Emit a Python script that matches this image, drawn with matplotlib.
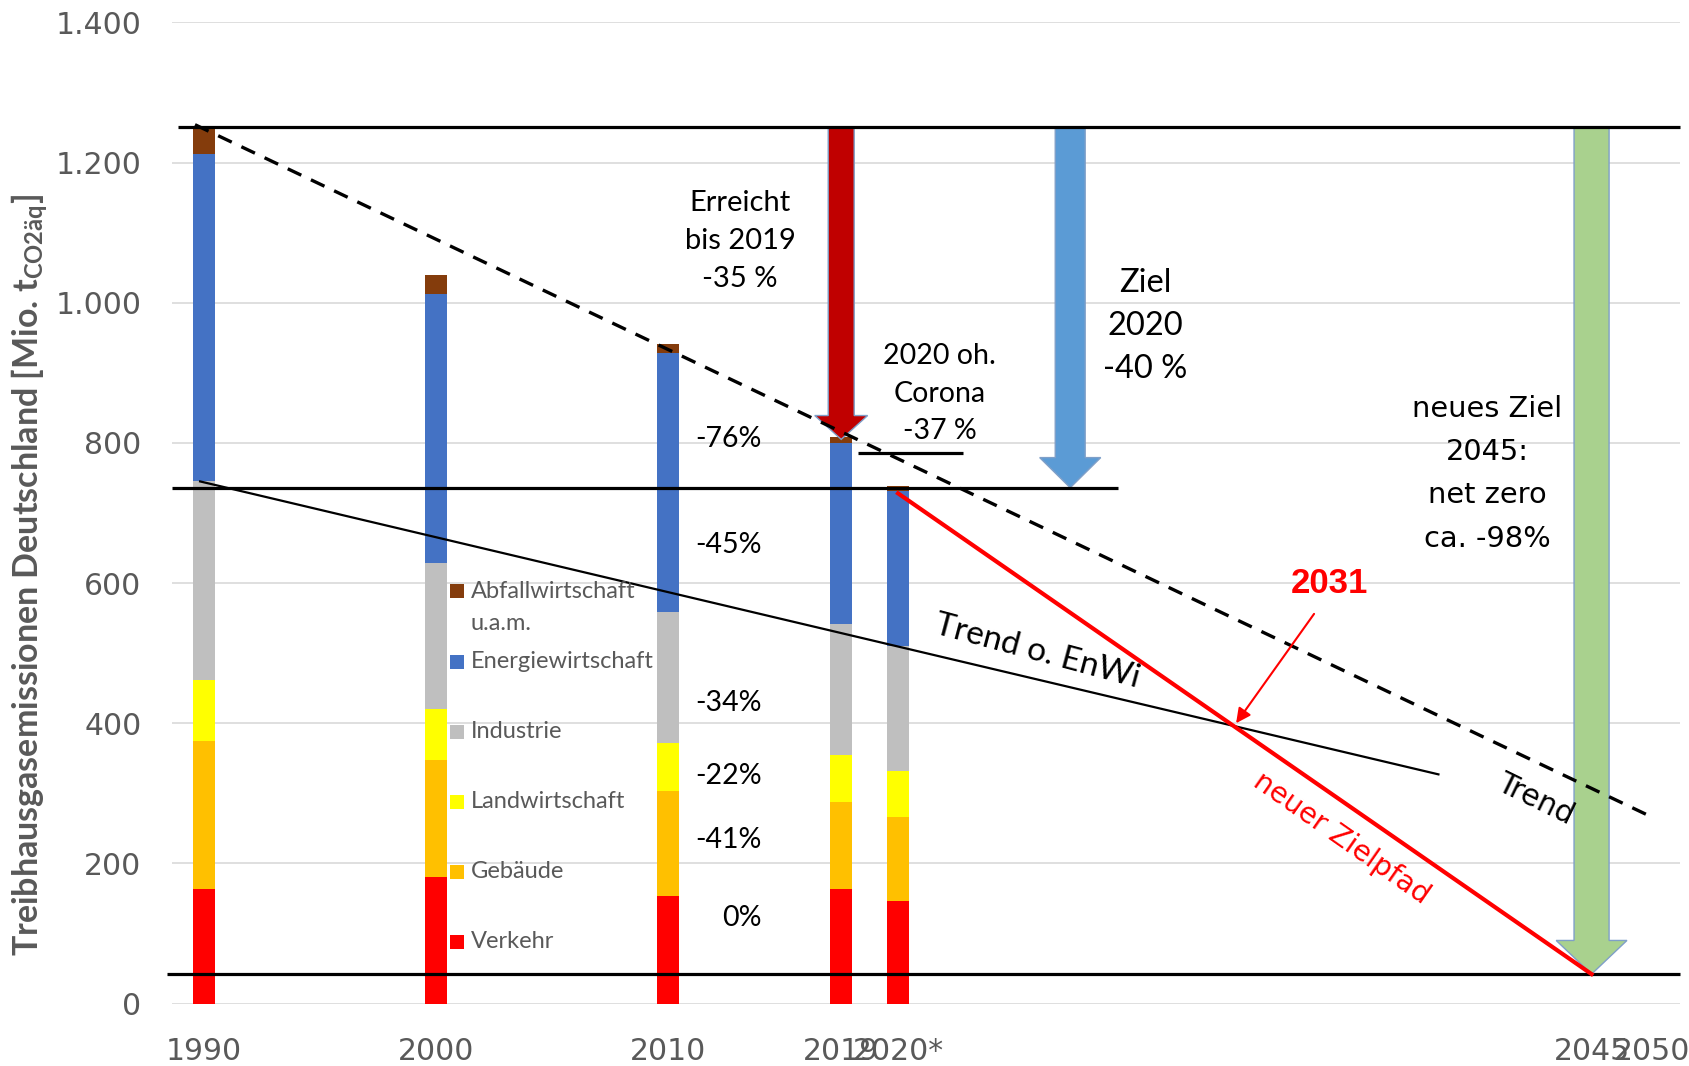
#!/usr/bin/env python3
"""Treibhausgasemissionen Deutschland: Sektoren, Trends und Zielpfad."""

import matplotlib

matplotlib.use("Agg")

import matplotlib.pyplot as plt
from matplotlib.patches import Polygon


# bar slots on the (uneven) category axis
BAR_POS = [0.0, 10.0, 20.0, 27.46, 29.91]
TICK_POS = [0.0, 10.0, 20.0, 27.46, 29.91, 59.8, 62.4]
TICK_LABELS = ["1990", "2000", "2010", "2019", "2020*", "2045", "2050"]
Y_TICKS = [0, 200, 400, 600, 800, 1000, 1200, 1400]

# Mio. t CO2-Äq. per sector
verkehr = [164, 181, 153, 164, 146]
gebaeude = [210, 167, 150, 123, 120]
landwirtschaft = [88, 72, 69, 68, 66]
industrie = [284, 208, 187, 187, 178]
energie = [466, 385, 369, 258, 221]
abfall = [38, 27, 13, 9, 8]

SECTOR_NAMES = ["Verkehr", "Gebäude", "Landwirtschaft", "Industrie",
                "Energiewirtschaft", "Abfallwirtschaft"]
SECTOR_COLORS = ["#FF0000", "#FFC000", "#FFFF00", "#BFBFBF", "#4472C4", "#843C0C"]

# reference levels
LEVEL_1990 = 1251
LEVEL_ZIEL_2020 = 736
LEVEL_2045 = 42
LEVEL_CORONA = 785

# trend lines (x slot, value)
TREND_X = [-0.39, 62.15]
TREND_Y = [1254, 270]
ENWI_X = [-0.17, 53.2]
ENWI_Y = [745, 327]
ZIEL_X = [29.91, 59.8]
ZIEL_Y = [728, 42]
CORONA_X = [28.2, 32.7]

# sector changes 1990-2019
PCT_LABELS = ["-76%", "-45%", "-34%", "-22%", "-41%", "0%"]
PCT_Y = [805, 654, 429, 325, 233, 122]

# inline legend rows, top to bottom
LEGEND_Y = [588, 488, 388, 288, 188, 88]

CALIBRI = ["Lato", "DejaVu Sans"]
GRAY = "#595959"


def down_arrow(ax, xc, y_top, y_tip, shaft_w, head_w, head_len, color, z):
    pts = [
        (xc - shaft_w / 2, y_top),
        (xc + shaft_w / 2, y_top),
        (xc + shaft_w / 2, y_tip + head_len),
        (xc + head_w / 2, y_tip + head_len),
        (xc, y_tip),
        (xc - head_w / 2, y_tip + head_len),
        (xc - shaft_w / 2, y_tip + head_len),
    ]
    ax.add_patch(Polygon(pts, closed=True, facecolor=color, edgecolor="#7F9FC8",
                         linewidth=1.0, zorder=z))


fig = plt.figure(figsize=(16.9, 10.66), dpi=100, facecolor="white")
ax = fig.add_axes([0.1018, 0.0586, 0.8924, 0.9204])
ax.set_xlim(-1.38, 63.62)
ax.set_ylim(0, 1400)

# stacked bars
series = [verkehr, gebaeude, landwirtschaft, industrie, energie, abfall]
bottom = [0] * len(BAR_POS)
for vals, name, col in zip(series, SECTOR_NAMES, SECTOR_COLORS):
    ax.bar(BAR_POS, vals, width=0.95, bottom=bottom, color=col, linewidth=0, zorder=2)
    bottom = [b + v for b, v in zip(bottom, vals)]

# big arrows
totals = bottom
down_arrow(ax, BAR_POS[3], LEVEL_1990, totals[3] - 4, 1.12, 2.28, 34, "#C00000", 3)
down_arrow(ax, 37.33, LEVEL_1990, LEVEL_ZIEL_2020, 1.29, 2.63, 43, "#5B9BD5", 3)
down_arrow(ax, TICK_POS[5], LEVEL_1990, LEVEL_2045, 1.51, 3.05, 48, "#A9D18E", 3)

# horizontal reference lines
ax.plot([-1.12, 63.62], [LEVEL_1990, LEVEL_1990], color="black", lw=2.3, zorder=5,
        clip_on=False, solid_capstyle="butt")
ax.plot([-1.38, 39.4], [LEVEL_ZIEL_2020, LEVEL_ZIEL_2020], color="black", lw=2.3,
        zorder=5, solid_capstyle="butt")
ax.plot([-1.6, 63.62], [LEVEL_2045, LEVEL_2045], color="black", lw=2.3, zorder=5,
        clip_on=False, solid_capstyle="butt")
ax.plot(CORONA_X, [LEVEL_CORONA, LEVEL_CORONA], color="black", lw=2.3, zorder=5,
        solid_capstyle="butt")

# trends and new target path
ax.plot(TREND_X, TREND_Y, color="black", lw=2.4, ls=(0, (4.5, 3.2)), zorder=6)
ax.plot(ENWI_X, ENWI_Y, color="black", lw=1.6, zorder=6)
ax.plot(ZIEL_X, ZIEL_Y, color="#FF0000", lw=3.0, zorder=6)

# 2031 marker
ax.annotate("", xy=(44.48, 400), xytext=(47.84, 556),
            arrowprops=dict(arrowstyle="-|>", color="#FF0000", lw=1.5,
                            mutation_scale=22, shrinkA=0, shrinkB=0), zorder=7)
ax.text(48.5, 600, "2031", color="#FF0000", fontsize=25, fontweight="bold",
        family=["Liberation Sans", "DejaVu Sans"], ha="center", va="center", zorder=7)

# annotation texts
ax.text(23.1, 1088, "Erreicht\nbis 2019\n-35 %", fontsize=21, family=CALIBRI,
        ha="center", va="center", linespacing=1.55, zorder=7)
ax.text(40.56, 967, "Ziel\n2020\n-40 %", fontsize=23.5, family=CALIBRI,
        ha="center", va="center", linespacing=1.55, zorder=7)
ax.text(31.7, 870, "2020 oh.\nCorona\n-37 %", fontsize=20.5, family=CALIBRI,
        ha="center", va="center", linespacing=1.55, zorder=7)
ax.text(55.3, 756, "neues Ziel\n2045:\nnet zero\nca. -98%", fontsize=20.8,
        family=["DejaVu Sans"], ha="center", va="center", linespacing=1.7, zorder=7)
for lab, yv in zip(PCT_LABELS, PCT_Y):
    ax.text(24.05, yv, lab, fontsize=20.5, family=CALIBRI, ha="right", va="center",
            zorder=7)

ax.text(35.9, 502, "Trend o. EnWi", fontsize=24, family=CALIBRI, rotation=-15,
        rotation_mode="anchor", ha="center", va="center", zorder=7)
ax.text(57.4, 292, "Trend", fontsize=21.5, family=["DejaVu Sans"], rotation=-26,
        rotation_mode="anchor", ha="center", va="center", zorder=7)
ax.text(49.0, 236, "neuer Zielpfad", fontsize=20.5, family=["DejaVu Sans"],
        color="#FF0000", rotation=-35, rotation_mode="anchor", ha="center",
        va="center", zorder=7)

# inline legend
legend_rows = list(zip(SECTOR_NAMES, SECTOR_COLORS, [LEGEND_Y[i] for i in (5, 4, 3, 2, 1, 0)]))
for name, col, yv in legend_rows:
    ax.scatter([10.9], [yv], marker="s", s=88, color=col, linewidths=0, zorder=8)
    ax.text(11.5, yv, name, fontsize=17, family=CALIBRI, color=GRAY,
            ha="left", va="center", zorder=8)
ax.text(11.5, LEGEND_Y[0] - 46, "u.a.m.", fontsize=17, family=CALIBRI, color=GRAY,
        ha="left", va="center", zorder=8)

# axes styling
ax.set_yticks(Y_TICKS, [f"{v:,}".replace(",", ".") for v in Y_TICKS])
ax.set_xticks(TICK_POS, TICK_LABELS)
ax.tick_params(axis="both", length=0, labelsize=21.5, labelcolor=GRAY)
ax.tick_params(axis="y", pad=22)
ax.tick_params(axis="x", pad=24)
ax.yaxis.grid(True, color="#D9D9D9", lw=1.2)
ax.set_axisbelow(True)
for sp in ax.spines.values():
    sp.set_visible(False)

fig.text(0.0178, 0.4606,
         r"Treibhausgasemissionen Deutschland [Mio. t$_{\mathregular{CO2äq}}$]",
         rotation=90, fontsize=24.5, fontweight="bold", family=CALIBRI, color=GRAY,
         ha="center", va="center")

fig.savefig("out.png", dpi=100, facecolor="white")
